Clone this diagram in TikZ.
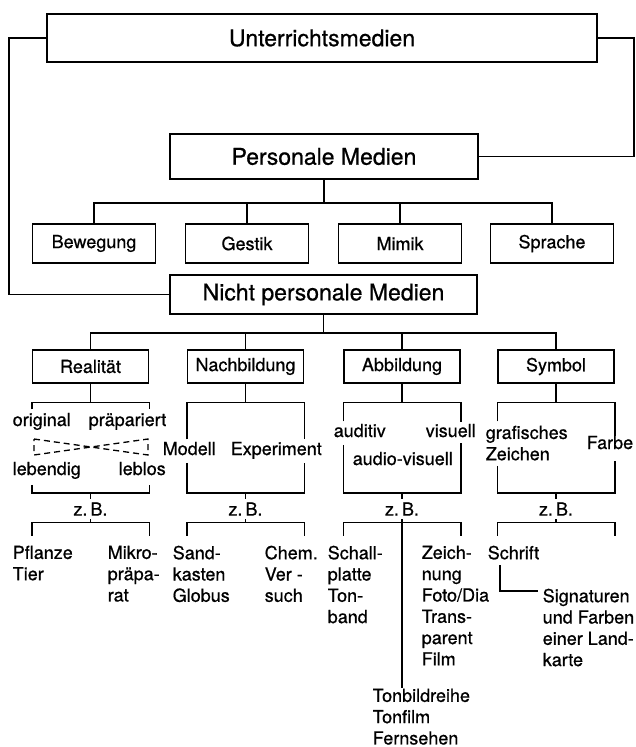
\documentclass[tikz,border=0pt]{standalone}
\usepackage{fontspec}
\setmainfont{TeX Gyre Heros}[FakeBold=0.7]
\usetikzlibrary{calc}

\tikzset{
    bigbox/.style={draw, inner sep=0pt, font=\fontsize{23}{26}\selectfont},
    smallbox/.style={draw, inner sep=0pt, minimum width=116pt, minimum height=33pt},
    frame/.style={inner sep=0pt, minimum width=116pt},
    lbl/.style={inner sep=0pt, align=left},
    zb/.style={inner sep=3pt},
}

\begin{document}
\begin{tikzpicture}[x=1pt, y=-1pt]
            \useasboundingbox (0,0) rectangle (635,747);
            \begin{scope}[line width=1.5pt, font=\fontsize{18}{21.3}\selectfont]
                % top level:
                \node [bigbox, minimum width=550pt, minimum height=48pt] (unter) at (322,38) {Unterrichtsmedien};
                \node [bigbox, minimum width=308pt, minimum height=45pt] (pers) at (324,156.5) {Personale Medien};
                \node [bigbox, minimum width=307pt, minimum height=39pt] (nicht) at (323.5,294.5) {Nicht personale Medien};
                \coordinate (lft) at (9,38);
                \coordinate (rgt) at (634,38);
                \draw (unter.west) -- (lft) |- (nicht.west);
                \draw (unter.east) -- (rgt) |- (pers.east);

                % personale medien
                \foreach \n/\x/\t in {bew/94/Bewegung, ges/247/Gestik, mim/400/Mimik, spr/552/Sprache}{
                    \node [smallbox, minimum width=123pt, minimum height=39pt] (\n) at (\x,243.5) {\t};
                    \draw (pers.south) -- ++(0,23) -| (\n.north);
                }

                % nicht personale medien
                \foreach \n/\x/\t/\lt/\lb/\rt/\rb in {real/90.5/Realität/7/8/7/8,
                        nach/245.5/Nachbildung/37/30/37/30,
                        abb/402/Abbildung/19/48/20/50,
                        sym/556/Symbol/19/27/34/32}{
                    \node [smallbox] (\n) at (\x,366.5) {\t};
                    \draw (nicht.south) -- ++(0,18) -| (\n.north);
                    % brackets
                    \node [frame, minimum height=89pt] (f\n) at (\x,447.5) {};
                    \draw (\n.south) -- (f\n.north);
                    \draw ($(f\n.north west)+(0,\lt)$) -- (f\n.north west) -- (f\n.north east) -- ++(0,\rt);
                    \draw ($(f\n.south west)+(0,-\lb)$) -- (f\n.south west) -- (f\n.south east) -- ++(0,-\rb);
                    \node [zb] (z\n) at (\x,509) {z.\,B.};
                    \draw (f\n.south) -- (z\n.north);
                    \node [frame, minimum height=12pt] (g\n) at (\x,529) {};
                    \draw (g\n.south west) -- (g\n.north west) -- (g\n.north east) -- (g\n.south east);
                    \draw (z\n.south) -- (g\n.north);
                }

                % inside the brackets
                \node [lbl, anchor=base west] (orig) at (12,426) {original};
                \node [lbl, anchor=base west] (prae) at (88,426) {präpariert};
                \node [lbl, anchor=base west] (lebd) at (12,475) {lebendig};
                \node [lbl, anchor=base west] (lebl) at (118,475) {leblos};
                \draw [dash pattern=on 6pt off 4pt, line width=1.3pt] (34,439) -- (148,455) -- (148,439) -- (34,455) -- cycle;
                \node [lbl, anchor=base west] (modl) at (162,455) {Modell};
                \node [lbl, anchor=base west] (expm) at (230,455) {Experiment};
                \node [lbl, anchor=base west] (audi) at (333,437) {auditiv};
                \node [lbl, anchor=base west] (visu) at (425,437) {visuell};
                \node [lbl, anchor=base west] (auvi) at (352,465) {audio-visuell};
                \node [lbl, anchor=north west] (graf) at (485,425) {grafisches\\Zeichen};
                \node [lbl, anchor=base west] (farb) at (586,449) {Farbe};

                % examples
                \node [lbl, anchor=north west] (pfla) at (12,545) {Pflanze\\Tier};
                \node [lbl, anchor=north west] (mikr) at (107,545) {Mikro-\\präpa-\\rat};
                \node [lbl, anchor=north west] (sand) at (172,545) {Sand-\\kasten\\Globus};
                \node [lbl, anchor=north west] (chem) at (264,545) {Chem.\\Ver -\\such};
                \node [lbl, anchor=north west] (scha) at (327,545) {Schall-\\platte\\Ton-\\band};
                \node [lbl, anchor=north west] (zeic) at (421,545) {Zeich-\\nung\\Foto/Dia\\Trans-\\parent\\Film};
                \node [lbl, anchor=north west] (schr) at (487,545) {Schrift};
                \node [lbl, anchor=north west] (sign) at (542,588) {Signaturen\\und Farben\\einer Land-\\karte};
                \node [lbl, anchor=north west] (tonb) at (372,688) {Tonbildreihe\\Tonfilm\\Fernsehen};
                \draw (zabb.south) -- (zabb.south |- tonb.north);
                \draw ($(schr.south west)+(13,5)$) |- ($(sign.north west)+(-4,3)$);
            \end{scope}
        \end{tikzpicture}
\end{document}
